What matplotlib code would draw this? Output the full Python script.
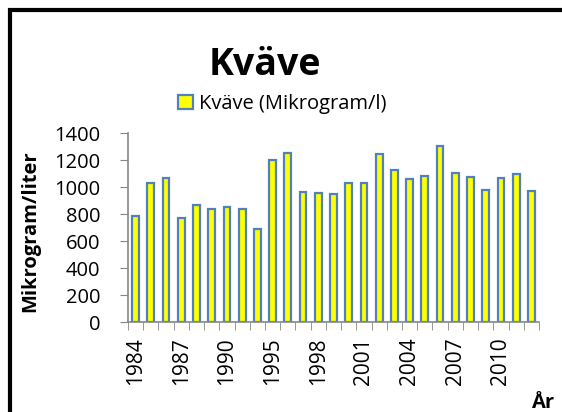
import matplotlib
matplotlib.use("Agg")
from matplotlib import pyplot as plt
from matplotlib.patches import Rectangle

years = ["1984", "1985", "1986", "1987", "1988", "1989", "1990", "1993", "1994",
         "1995", "1996", "1997", "1998", "1999", "2000", "2001", "2002", "2003",
         "2004", "2005", "2006", "2007", "2008", "2009", "2010", "2011", "2012"]
kvave = [790, 1030, 1065, 770, 865, 842, 855, 837, 690,
         1205, 1252, 962, 955, 953, 1032, 1030, 1245, 1130,
         1060, 1085, 1303, 1105, 1077, 980, 1065, 1095, 972]
shown_labels = ["1984", "1987", "1990", "1995", "1998", "2001", "2004", "2007", "2010"]

plt.rcParams['font.family'] = ['Open Sans', 'DejaVu Sans']

W, H = 562, 412
fig = plt.figure(figsize=(W / 100, H / 100), dpi=100)
ax = fig.add_axes([128 / W, 1 - 322 / H, (539 - 128) / W, (322 - 133.3) / H])

x = list(range(len(years)))
ax.bar(x, kvave, width=0.44, color='#FFFF00', edgecolor='#4F81BD', linewidth=1.6,
       label='Kväve (Mikrogram/l)')

ax.set_xlim(-0.5, len(years) - 0.5)
ax.set_ylim(0, 1400)
ax.set_yticks(range(0, 1401, 200))
ax.tick_params(axis='y', labelsize=14.5, length=6, color='#868686', pad=14)

major = [years.index(y) for y in shown_labels]
ax.set_xticks(major)
ax.set_xticklabels(shown_labels, rotation=90, fontsize=15)
ax.set_xticks([i - 0.5 for i in range(len(years) + 1)], minor=True)
ax.tick_params(axis='x', which='major', length=0, pad=11)
ax.tick_params(axis='x', which='minor', length=6, color='#868686')

for side in ['top', 'right']:
    ax.spines[side].set_visible(False)
for side in ['left', 'bottom']:
    ax.spines[side].set_color('#868686')
    ax.spines[side].set_linewidth(1.2)

fig.text(265 / W, 1 - 75 / H, 'Kväve', fontsize=27, fontweight='bold',
         ha='center', va='baseline')
fig.legend(loc='center', bbox_to_anchor=(282 / W, 1 - 104 / H), fontsize=14.5,
           frameon=False, handlelength=0.75, handleheight=0.75,
           handletextpad=0.3, borderpad=0)
fig.text(30 / W, 1 - 231 / H, 'Mikrogram/liter', fontsize=14.5, fontweight='bold',
         rotation=90, ha='center', va='center')
fig.text(532 / W, 1 - 393 / H, 'År', fontsize=14.5, fontweight='bold',
         ha='left', va='top')

border = Rectangle((10 / W, -0.1), 1.2, (H - 10) / H + 0.1, transform=fig.transFigure,
                   fill=False, edgecolor='black', linewidth=3, clip_on=False)
fig.patches.append(border)

fig.savefig('out.png', dpi=100)
